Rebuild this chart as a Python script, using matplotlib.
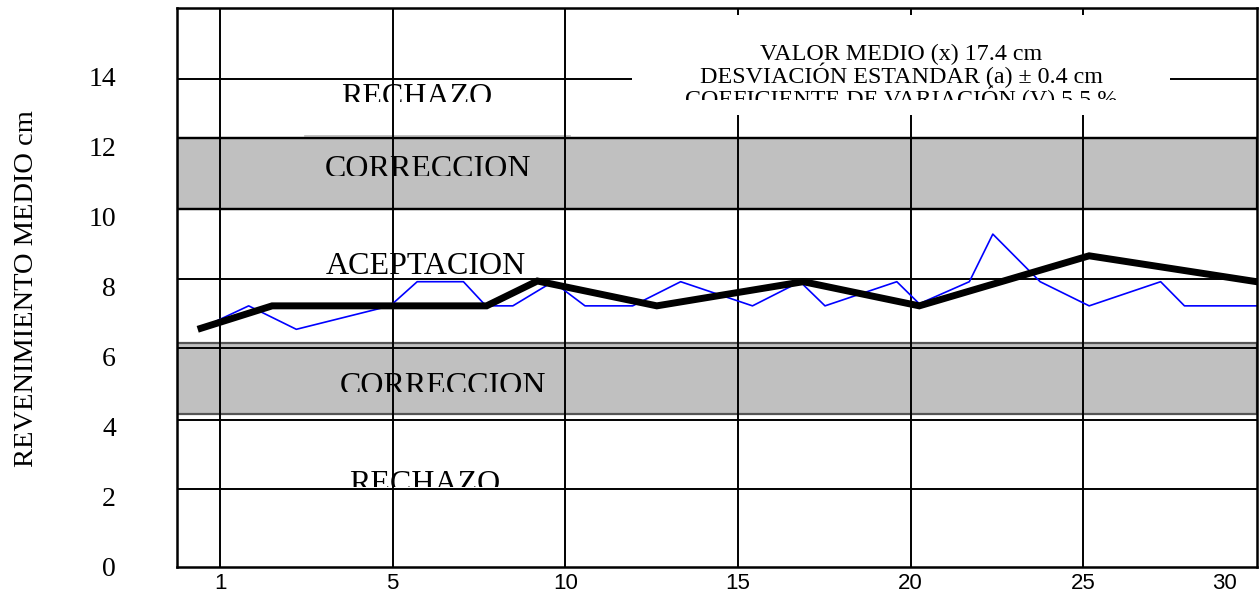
import matplotlib
matplotlib.use("Agg")
import matplotlib.pyplot as plt
from matplotlib.patches import Rectangle
from matplotlib.transforms import Bbox, TransformedBbox

# x in plot units: gridline "1" sits at 0, one unit per step of 5 labels / 5
x_ticks = [0, 5, 10, 15, 20, 25, 29.1]
x_labels = ["1", "5", "10", "15", "20", "25", "30"]
y_ticks = [0, 2, 4, 6, 8, 10, 12, 14]

# individual tests (blue) and moving average (black)
blue_x = [-0.55, 0.83, 2.21, 4.93, 5.71, 7.05, 7.70, 8.48, 9.64, 10.57, 11.95,
          13.34, 15.42, 16.80, 17.52, 19.60, 20.25, 21.70, 22.38, 23.75, 25.17,
          27.24, 27.93, 30.02]
blue_y = [6.82, 7.46, 6.79, 7.46, 8.15, 8.15, 7.46, 7.46, 8.15, 7.46, 7.46,
          8.15, 7.46, 8.15, 7.46, 8.15, 7.52, 8.15, 9.51, 8.15, 7.46, 8.15,
          7.46, 7.46]
black_x = [-0.55, 1.51, 7.72, 9.19, 12.65, 16.89, 20.25, 25.17, 30.02]
black_y = [6.82, 7.46, 7.46, 8.17, 7.46, 8.15, 7.46, 8.89, 8.15]

# zones: (bottom, top)
band_upper = (10.23, 12.26)
band_lower = (4.37, 6.40)
hlines = [2.23, 4.20, 6.27, 8.23, 13.94]

zone_labels = [
    # text, x, baseline, clip_y
    ("RECHAZO", 5.70, 13.19, 13.29),
    ("CORRECCION", 6.02, 11.13, 11.17),
    ("ACEPTACION", 5.97, 8.37, None),
    ("CORRECCION", 6.46, 4.94, 5.01),
    ("RECHAZO", 5.94, 2.13, 2.28),
]
stats_lines = [
    "VALOR MEDIO (x) 17.4 cm",
    "DESVIACIÓN ESTANDAR (a) ± 0.4 cm",
    "COEFICIENTE DE VARIACIÓN (V) 5.5 %",
]
stats_base = [14.49, 13.82, 13.16]

SERIF = ["Liberation Serif", "DejaVu Serif"]
XMIN, XMAX, YMAX = -1.245, 30.03, 15.97

fig = plt.figure(figsize=(12.59, 5.96), dpi=100)
ax = fig.add_axes([0.1406, 0.0487, 0.8578, 0.9379])
ax.set_xlim(XMIN, XMAX)
ax.set_ylim(0, YMAX)

lo, hi = band_upper
ax.add_patch(Rectangle((XMIN, lo), XMAX - XMIN, hi - lo, facecolor="#c0c0c0",
                       edgecolor="black", lw=1.6, zorder=1))
lo, hi = band_lower
ax.add_patch(Rectangle((XMIN, lo), XMAX - XMIN, hi - lo, facecolor="#c0c0c0",
                       edgecolor="#555555", lw=1.6, zorder=1))
ax.plot([2.45, 10.14], [12.31, 12.31], color="#b8b8b8", lw=1.2, zorder=1.5)

for text, x, yb, clip in zone_labels:
    t = ax.text(x, yb, text, ha="center", va="baseline", fontsize=23,
                family=SERIF, zorder=2)
    if clip is not None:
        t.set_clip_box(TransformedBbox(Bbox([[XMIN, clip], [XMAX, YMAX]]), ax.transData))
        t.set_clip_on(True)

for v in x_ticks[:-1]:
    ax.axvline(v, color="black", lw=1.4, zorder=3)
for h in hlines:
    ax.axhline(h, color="black", lw=1.4, zorder=3)
ax.axhline(band_upper[0], color="black", lw=1.6, zorder=3)
ax.axhline(band_upper[1], color="black", lw=1.6, zorder=3)

# white text box with the statistics
ax.add_patch(Rectangle((11.93, 12.91), 15.58, 2.86, facecolor="white",
                       edgecolor="none", zorder=3.5))
for i, (line, yb) in enumerate(zip(stats_lines, stats_base)):
    t = ax.text(19.72, yb, line, ha="center", va="baseline", fontsize=17.3,
                family=SERIF, zorder=4)
    if i == 2:
        t.set_clip_box(TransformedBbox(Bbox([[XMIN, 13.34], [XMAX, YMAX]]), ax.transData))
        t.set_clip_on(True)

ax.plot(blue_x, blue_y, color="#0000ff", lw=1.2, zorder=5)
ax.plot(black_x, black_y, color="black", lw=5, zorder=6, solid_joinstyle="miter")

ax.set_xticks(x_ticks, x_labels)
ax.set_yticks(y_ticks)
ax.tick_params(axis="x", length=0, pad=4, labelsize=16)
ax.tick_params(axis="y", length=0, pad=44, labelsize=20)
for lab in ax.get_xticklabels():
    lab.set_family(["Liberation Sans", "DejaVu Sans"])
for lab in ax.get_yticklabels():
    lab.set_family(SERIF)
for sp in ax.spines.values():
    sp.set_linewidth(1.8)
    sp.set_zorder(7)

fig.text(0.021, 0.515, "REVENIMIENTO MEDIO cm", rotation=90, ha="center",
         va="center", fontsize=20.5, family=SERIF)

fig.savefig("out.png", dpi=100)
